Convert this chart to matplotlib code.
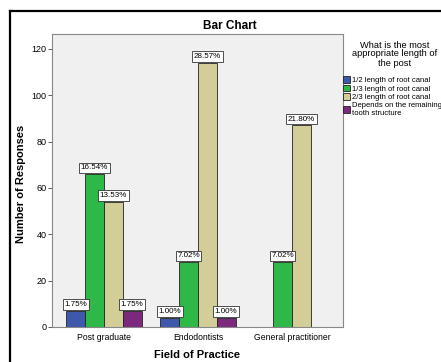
import numpy as np
import matplotlib
matplotlib.use("Agg")
import matplotlib.pyplot as plt
from matplotlib.lines import Line2D

plt.rcParams['font.family'] = ['Liberation Sans', 'DejaVu Sans']

fields = ['Post graduate', 'Endodontists', 'General practitioner']
answers = ['1/2 length of root canal', '1/3 length of root canal',
           '2/3 length of root canal', 'Depends on the remaining\ntooth structure']
# counts per answer, one value per field of practice
half_len = [7, 4, 0]
third_len = [66, 28, 28]
two_third_len = [54, 114, 87]
depends = [7, 4, 0]
n_total = 399

colors = ['#3E58AC', '#2EB848', '#D3CE97', '#7C287D']

fig = plt.figure(figsize=(4.41, 3.62), dpi=100)
ax = fig.add_axes([52 / 441, 1 - 327 / 362, 291 / 441, 293 / 362])
ax.set_facecolor('#F0F0F0')

x = np.arange(len(fields))
w = 0.2
series = [half_len, third_len, two_third_len, depends]
for i, (vals, c) in enumerate(zip(series, colors)):
    pos = x + (i - 1.5) * w
    ax.bar(pos, vals, w, color=c, edgecolor='#222222', linewidth=0.6,
           label=answers[i], zorder=2)
    for xp, v in zip(pos, vals):
        if v == 0:
            continue
        ax.annotate('{:.2f}%'.format(v / n_total * 100), (xp, v),
                    xytext=(0, 2), textcoords='offset points',
                    ha='center', va='bottom', fontsize=5.8, zorder=4,
                    bbox=dict(boxstyle='square,pad=0.2', fc='white',
                              ec='#333333', lw=0.6))

ax.set_xlim(-0.553, 2.543)
ax.set_ylim(0, 126.4)
ax.set_yticks(range(0, 121, 20))
ax.set_xticks(x)
ax.set_xticklabels(fields, fontsize=6.2)
ax.tick_params(axis='y', labelsize=6.5, length=3, width=0.6, pad=1, color='#444444')
ax.tick_params(axis='x', length=0, pad=4)
for s in ax.spines.values():
    s.set_color('#888888')
    s.set_linewidth(0.8)

ax.set_ylabel('Number of Responses', fontsize=8, fontweight='bold')
ax.yaxis.set_label_coords(-26 / 291, 0.49)
ax.set_xlabel('Field of Practice', fontsize=8, fontweight='bold', labelpad=6)
fig.text(230 / 441, 1 - 26 / 362, 'Bar Chart', ha='center', va='center',
         fontsize=8.5, fontweight='bold')

fig.text(395 / 441, 1 - 54 / 362, 'What is the most\nappropriate length of\nthe post',
         ha='center', va='center', fontsize=6.7, linespacing=1.0)
fig.legend(loc='upper left', bbox_to_anchor=(340 / 441, 1 - 73 / 362),
           frameon=False, fontsize=5.5, handlelength=0.9, handleheight=0.95,
           handletextpad=0.25, labelspacing=0.1, borderaxespad=0)

# black frame along the top and left edges
fig.add_artist(Line2D([9.5 / 441, 9.5 / 441], [0, 1 - 10.5 / 362],
                      transform=fig.transFigure, color='black', lw=1.6))
fig.add_artist(Line2D([9.5 / 441, 1], [1 - 10.5 / 362, 1 - 10.5 / 362],
                      transform=fig.transFigure, color='black', lw=1.6))

fig.savefig('out.png', dpi=100)
